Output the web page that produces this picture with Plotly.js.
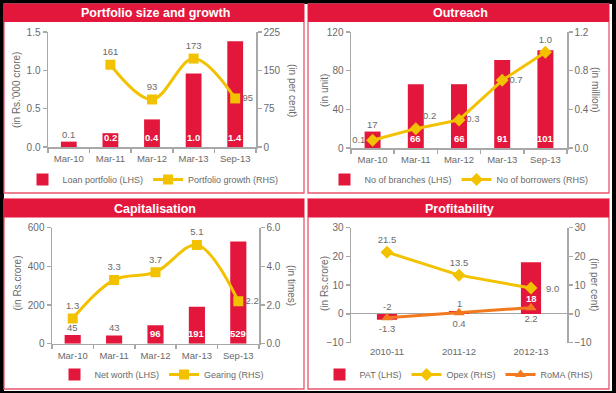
<!DOCTYPE html>
<html>
<head>
<meta charset="utf-8">
<script src="https://cdn.plot.ly/plotly-3.0.1.min.js"></script>
<style>
html,body{margin:0;padding:0;background:#000;}
#chart{width:616px;height:393px;}
</style>
</head>
<body>
<div id="chart"></div>
<script>
// ---- data ----
const dates = ['Mar-10', 'Mar-11', 'Mar-12', 'Mar-13', 'Sep-13'];
const loanPortfolio = [0.07, 0.18, 0.36, 0.96, 1.38];     // Rs.'000 crore
const portfolioGrowth = [null, 161, 93, 173, 95];         // per cent
const branches = [17, 66, 66, 91, 101];                   // units
const borrowers = [0.08, 0.2, 0.29, 0.7, 0.99];           // million
const netWorth = [45, 43, 96, 191, 529];                  // Rs.crore
const gearing = [1.3, 3.3, 3.7, 5.1, 2.2];                // times
const years = ['2010-11', '2011-12', '2012-13'];
const pat = [-2, 1, 18];                                  // Rs.crore
const opex = [21.5, 13.5, 9.0];                           // per cent
const roma = [-1.3, 0.4, 2.2];                            // per cent

const panelTitles = ['Portfolio size and growth', 'Outreach', 'Capitalisation', 'Profitability'];

// ---- styling ----
const W = 616, H = 393;
const px = x => x / W;
const py = y => 1 - y / H;
const RED = '#E3173C';
const GOLD = '#F2C200';
const ORANGE = '#F2791E';
const AXIS = '#A8A8A8';
const TXT = '#6A6A6A';
const FONT = 'Liberation Sans, Arial, sans-serif';

const fmt1 = v => v.toFixed(1);

const traces = [
  // Panel 1
  {type: 'bar', x: dates, y: loanPortfolio, xaxis: 'x', yaxis: 'y', width: 0.38,
   marker: {color: RED}, name: 'Loan portfolio (LHS)', legend: 'legend'},
  {type: 'scatter', mode: 'lines+markers+text', x: dates, y: portfolioGrowth, xaxis: 'x', yaxis: 'y2',
   line: {color: GOLD, width: 3, shape: 'spline'}, marker: {symbol: 'square', size: 10, color: GOLD},
   text: portfolioGrowth.map(v => v == null ? '' : String(v)),
   textposition: ['top center', 'top center', 'top center', 'top center', 'middle right'],
   textfont: {size: 9.5, color: TXT}, name: 'Portfolio growth (RHS)', legend: 'legend'},
  // Panel 2
  {type: 'bar', x: dates, y: branches, xaxis: 'x2', yaxis: 'y3', width: 0.37,
   marker: {color: RED}, name: 'No of branches (LHS)', legend: 'legend2'},
  {type: 'scatter', mode: 'lines+markers+text', x: dates, y: borrowers, xaxis: 'x2', yaxis: 'y4',
   line: {color: GOLD, width: 3}, marker: {symbol: 'diamond', size: 10, color: GOLD},
   text: borrowers.map(fmt1),
   textposition: ['middle left', 'top right', 'middle right', 'middle right', 'top center'],
   textfont: {size: 9.5, color: TXT}, name: 'No of borrowers (RHS)', legend: 'legend2'},
  // Panel 3
  {type: 'bar', x: dates, y: netWorth, xaxis: 'x3', yaxis: 'y5', width: 0.39,
   marker: {color: RED}, name: 'Net worth (LHS)', legend: 'legend3'},
  {type: 'scatter', mode: 'lines+markers+text', x: dates, y: gearing, xaxis: 'x3', yaxis: 'y6',
   line: {color: GOLD, width: 3, shape: 'spline'}, marker: {symbol: 'square', size: 10, color: GOLD},
   text: gearing.map(fmt1),
   textposition: ['top center', 'top center', 'top center', 'top center', 'middle right'],
   textfont: {size: 9.5, color: TXT}, name: 'Gearing (RHS)', legend: 'legend3'},
  // Panel 4
  {type: 'bar', x: years, y: pat, xaxis: 'x4', yaxis: 'y7', width: 0.28,
   marker: {color: RED}, name: 'PAT (LHS)', legend: 'legend4'},
  {type: 'scatter', mode: 'lines+markers+text', x: years, y: opex, xaxis: 'x4', yaxis: 'y8',
   line: {color: GOLD, width: 3}, marker: {symbol: 'diamond', size: 10, color: GOLD},
   text: opex.map((v, i) => i === opex.length - 1 ? '' : fmt1(v)),
   textposition: 'top center',
   textfont: {size: 9.5, color: TXT}, name: 'Opex (RHS)', legend: 'legend4'},
  {type: 'scatter', mode: 'lines+markers+text', x: years, y: roma, xaxis: 'x4', yaxis: 'y8',
   line: {color: ORANGE, width: 3}, marker: {symbol: 'triangle-up', size: 10, color: ORANGE},
   text: roma.map(fmt1),
   textposition: 'bottom center',
   textfont: {size: 9.5, color: TXT}, name: 'RoMA (RHS)', legend: 'legend4'}
];

// ---- axes ----
function xAx(domain, anchor, line) {
  return {domain: domain, anchor: anchor, type: 'category', range: null,
    showline: line, linecolor: AXIS, linewidth: 1.5, showgrid: false, zeroline: false,
    ticks: line ? 'outside' : '', tickson: 'boundaries', ticklen: 4, tickcolor: AXIS, tickwidth: 1.5,
    tickangle: 0, automargin: false, ticklabelstandoff: 2,
    tickfont: {size: 9.5, color: TXT, family: FONT}, fixedrange: true};
}
function yAx(domain, anchor, range, dtick, fmt, side, overlay, zero) {
  const a = {domain: domain, anchor: anchor, range: range, dtick: dtick, tick0: range[0],
    tickformat: fmt, showline: true, linecolor: AXIS, linewidth: 1.5, showgrid: false,
    zeroline: !!zero, zerolinecolor: AXIS, zerolinewidth: 1,
    ticks: 'outside', ticklen: 4, tickcolor: AXIS, tickwidth: 1.5, automargin: false,
    tickfont: {size: 10, color: TXT, family: FONT}, side: side, fixedrange: true};
  if (overlay) a.overlaying = overlay;
  return a;
}

const d1x = [px(48), px(256)], d1y = [py(147), py(32)];
const d2x = [px(351), px(567)], d2y = [py(148), py(32)];
const d3x = [px(52), px(259)], d3y = [py(343.7), py(227.7)];
const d4x = [px(351), px(567)], d4y = [py(342.7), py(227.7)];

// ---- shapes: frame, panels, header bands ----
const panels = [[4, 4, 304, 193, 22], [308, 4, 609, 193, 22], [4, 199, 304, 389, 217.5], [308, 199, 609, 389, 217.5]];
const shapes = [{type: 'rect', xref: 'paper', yref: 'paper', x0: px(4), x1: px(612), y0: py(391), y1: py(4),
  fillcolor: '#FFFFFF', line: {width: 0}, layer: 'below'}];
panels.forEach(p => {
  shapes.push({type: 'rect', xref: 'paper', yref: 'paper', x0: px(p[0]), x1: px(p[2]), y0: py(p[3]), y1: py(p[1]),
    fillcolor: 'rgba(0,0,0,0)', line: {color: '#E8566D', width: 1.3}, layer: 'below'});
  shapes.push({type: 'rect', xref: 'paper', yref: 'paper', x0: px(p[0]), x1: px(p[2]), y0: py(p[4]), y1: py(p[1]),
    fillcolor: RED, line: {width: 0}, layer: 'below'});
});

// ---- annotations ----
const annotations = [];
const titlePos = [[155, 13], [460, 13], [155, 208.5], [459.5, 208.5]];
panelTitles.forEach((t, i) => annotations.push({xref: 'paper', yref: 'paper', x: px(titlePos[i][0]), y: py(titlePos[i][1]),
  xanchor: 'center', yanchor: 'middle', showarrow: false, text: '<b>' + t + '</b>',
  font: {size: 12.5, color: '#FFFFFF', family: FONT}}));

const axisTitles = [
  ["(in Rs.'000 crore)", 17, 90, -90], ['(in per cent)', 292, 90, 90],
  ['(in unit)', 324.5, 90.5, -90], ['(in million)', 595, 90, 90],
  ['(in Rs.crore)', 17, 283.5, -90], ['(in times)', 292, 285, 90],
  ['(in Rs.crore)', 324.5, 283.5, -90], ['(in per cent)', 595, 284, 90]
];
axisTitles.forEach(a => annotations.push({xref: 'paper', yref: 'paper', x: px(a[1]), y: py(a[2]),
  xanchor: 'center', yanchor: 'middle', showarrow: false, text: a[0], textangle: a[3],
  font: {size: 10, color: TXT, family: FONT}}));

// last Opex label sits well to the right of its marker
annotations.push({xref: 'x4', yref: 'y8', x: years[years.length - 1], y: opex[opex.length - 1],
  xshift: 21, xanchor: 'center', yanchor: 'middle', showarrow: false, text: fmt1(opex[opex.length - 1]),
  font: {size: 9.5, color: TXT, family: FONT}});

// bar value labels: inside (white, near base) or outside (grey, above bar)
function barLabels(cats, vals, texts, xr, yr, inside, shift) {
  cats.forEach((c, i) => {
    if (inside[i]) {
      annotations.push({xref: xr, yref: yr, x: c, y: 0, yshift: shift, xanchor: 'center', yanchor: 'middle',
        showarrow: false, text: '<b>' + texts[i] + '</b>', font: {size: 9.5, color: '#FFFFFF', family: FONT}});
    } else {
      annotations.push({xref: xr, yref: yr, x: c, y: Math.max(vals[i], 0), xanchor: 'center', yanchor: 'bottom',
        showarrow: false, text: texts[i], font: {size: 9.5, color: TXT, family: FONT}});
    }
  });
}
barLabels(dates, loanPortfolio, loanPortfolio.map(fmt1), 'x', 'y', [false, true, true, true, true], 10);
barLabels(dates, branches, branches.map(String), 'x2', 'y3', [false, true, true, true, true], 10);
barLabels(dates, netWorth, netWorth.map(String), 'x3', 'y5', [false, false, true, true, true], 10.5);
barLabels(years, pat, pat.map(String), 'x4', 'y7', [false, false, true], 15);

// ---- legends ----
function leg(x, y) {
  return {orientation: 'h', x: px(x), y: py(y), xanchor: 'center', yanchor: 'middle',
    bgcolor: 'rgba(0,0,0,0)', font: {size: 9, color: TXT, family: FONT}, itemclick: false, itemdoubleclick: false,
    tracegroupgap: 0};
}

const layout = {
  width: W, height: H,
  margin: {l: 0, r: 0, t: 0, b: 0},
  paper_bgcolor: '#000000', plot_bgcolor: 'rgba(0,0,0,0)',
  font: {family: FONT, color: TXT},
  barmode: 'overlay',
  xaxis: xAx(d1x, 'y', true),
  yaxis: yAx(d1y, 'x', [0, 1.5], 0.5, '.1f', 'left'),
  yaxis2: yAx(d1y, 'x', [0, 225], 75, 'd', 'right', 'y'),
  xaxis2: xAx(d2x, 'y3', true),
  yaxis3: yAx(d2y, 'x2', [0, 120], 40, 'd', 'left'),
  yaxis4: yAx(d2y, 'x2', [0, 1.2], 0.4, '.1f', 'right', 'y3'),
  xaxis3: xAx(d3x, 'y5', true),
  yaxis5: yAx(d3y, 'x3', [0, 600], 200, 'd', 'left'),
  yaxis6: yAx(d3y, 'x3', [0, 6], 2, '.1f', 'right', 'y5'),
  xaxis4: xAx(d4x, 'y7', false),
  yaxis7: yAx(d4y, 'x4', [-10, 30], 10, 'd', 'left', null, true),
  yaxis8: yAx(d4y, 'x4', [-10, 30], 10, 'd', 'right', 'y7'),
  legend: leg(153, 179.5),
  legend2: leg(459, 179.5),
  legend3: leg(162, 374.5),
  legend4: leg(459, 374.5),
  shapes: shapes,
  annotations: annotations
};
// category axes: full range
['xaxis', 'xaxis2', 'xaxis3'].forEach(k => { layout[k].range = [-0.5, dates.length - 0.5]; });
layout.xaxis4.range = [-0.5, years.length - 0.5];
layout.xaxis4.anchor = 'free';
layout.xaxis4.position = py(342.7);

Plotly.newPlot('chart', traces, layout, {displayModeBar: false, staticPlot: true});
</script>
</body>
</html>
